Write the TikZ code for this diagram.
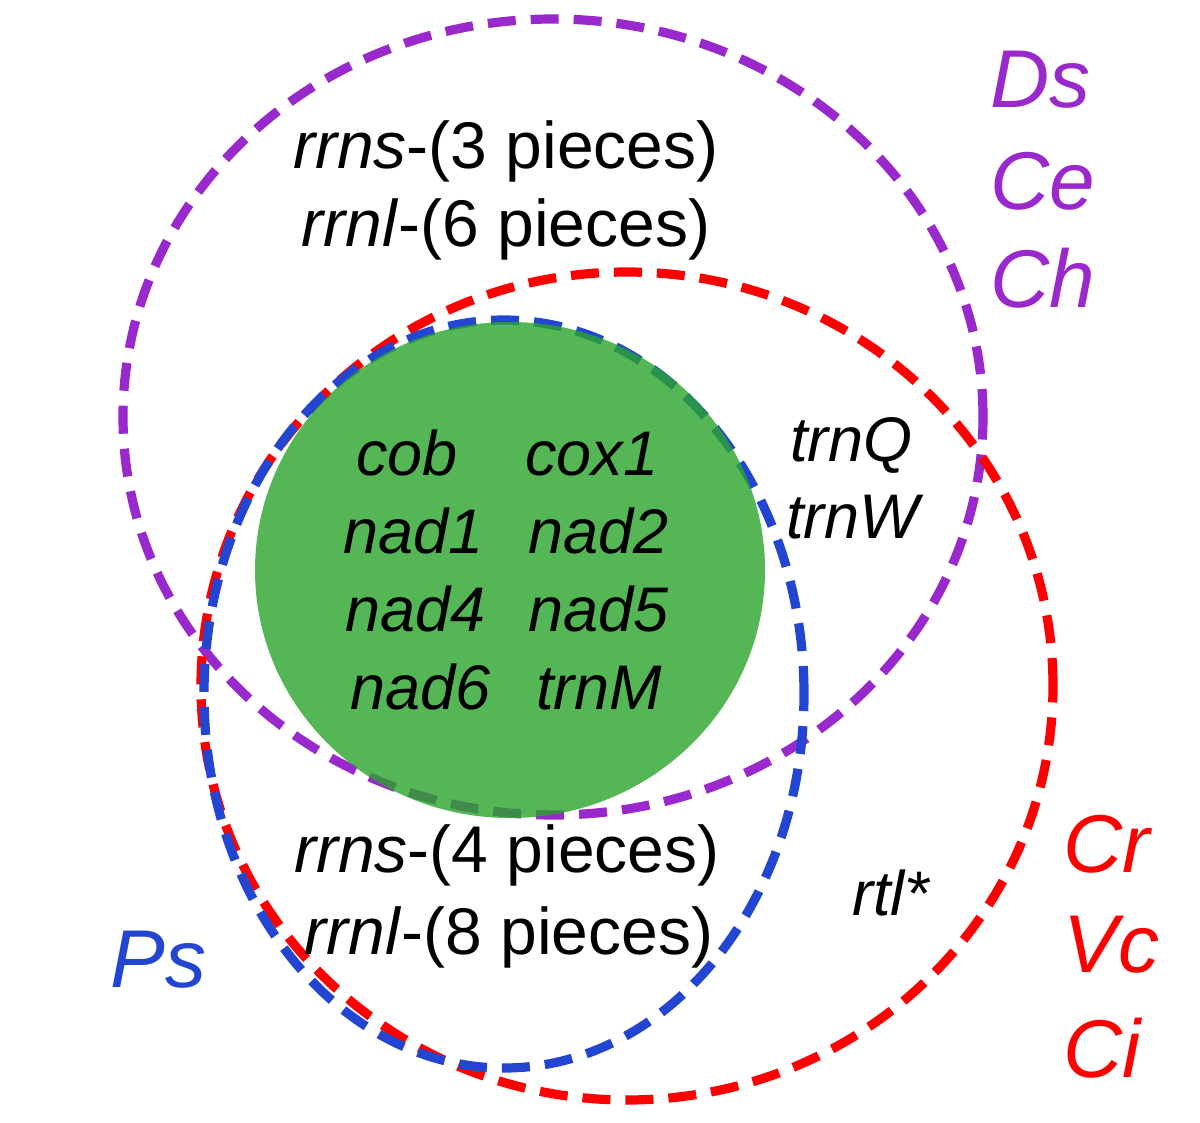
\documentclass[tikz,border=0pt]{standalone}
\usepackage{fontspec}
\setmainfont{Liberation Sans}
\definecolor{purpleC}{RGB}{153,41,204}
\definecolor{redC}{RGB}{255,0,0}
\definecolor{blueC}{RGB}{35,70,210}
\definecolor{greenC}{RGB}{42,164,42}
\tikzset{
  ring/.style={line width=4.6pt, dash pattern=on 14pt off 7.5pt},
  gene/.style={inner sep=0pt, anchor=base west, font=\fontsize{31.5}{37}\selectfont\itshape},
  piece/.style={inner sep=0pt, anchor=base, font=\fontsize{33}{39}\selectfont},
  taxon/.style={inner sep=0pt, anchor=base west, font=\fontsize{41}{48}\selectfont\itshape}
}
\begin{document}
\begin{tikzpicture}[x=0.5pt, y=-0.5pt]
\useasboundingbox (0,0) rectangle (1200,1123);
% circles
\draw[ring, purpleC] (553,417) ellipse [x radius=215pt, y radius=199pt];
\draw[ring, redC] (627,686) ellipse [x radius=213pt, y radius=207pt];
\draw[ring, blueC] (504,694) ellipse [x radius=150pt, y radius=187pt];
\fill[greenC, fill opacity=0.8] (510,570) ellipse [x radius=127.5pt, y radius=124pt];
% top region
\node[piece] (t1) at (506,169) {\textit{rrns}-(3 pieces)};
\node[piece] (t2) at (506,247) {\textit{rrnl}-(6 pieces)};
% core genes
\node[gene] (g1) at (356,475) {cob};
\node[gene] (g2) at (525,475) {cox1};
\node[gene] (g3) at (343,553) {nad1};
\node[gene] (g4) at (528,553) {nad2};
\node[gene] (g5) at (345,631) {nad4};
\node[gene] (g6) at (528,631) {nad5};
\node[gene] (g7) at (350,709) {nad6};
\node[gene] (g8) at (536,709) {trnM};
% right region
\node[gene] (q) at (790,461) {trnQ};
\node[gene] (w) at (786,538) {trnW};
\node[gene] (rtl) at (852,915) {rtl*};
% bottom region
\node[piece] (b1) at (507,872) {\textit{rrns}-(4 pieces)};
\node[piece] (b2) at (509,954) {\textit{rrnl}-(8 pieces)};
% taxa
\node[taxon, text=blueC] (ps) at (110,987) {Ps};
\node[taxon, text=purpleC] (ds) at (990,108) {Ds};
\node[taxon, text=purpleC] (ce) at (990,210) {Ce};
\node[taxon, text=purpleC] (ch) at (990,308) {Ch};
\node[taxon, text=redC] (cr) at (1063,872) {Cr};
\node[taxon, text=redC] (vc) at (1063,972) {Vc};
\node[taxon, text=redC] (ci) at (1063,1077) {Ci};
\end{tikzpicture}
\end{document}
